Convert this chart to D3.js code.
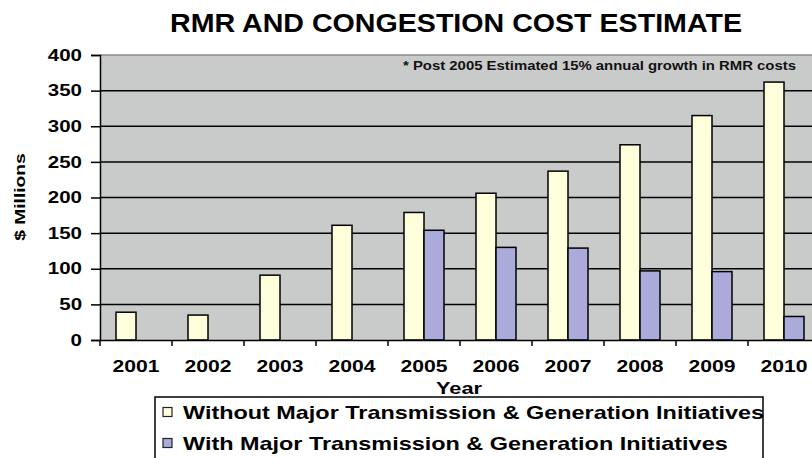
<!DOCTYPE html>
<html>
<head>
<meta charset="utf-8">
<script src="https://cdn.jsdelivr.net/npm/d3@7"></script>
<style>
  body { margin: 0; background: #fff; }
  text { font-family: "Liberation Sans", Arial, sans-serif; font-weight: bold; fill: #000; }
</style>
</head>
<body>
<div class="chart"></div>
<script>
// data
const years = ['2001', '2002', '2003', '2004', '2005', '2006', '2007', '2008', '2009', '2010'];
const withoutInit = [39, 35, 91, 161, 179, 206, 237, 274, 315, 362];
const withInit = [null, null, null, null, 154, 130, 129, 97, 96, 33];
const yTicks = [0, 50, 100, 150, 200, 250, 300, 350, 400];
const seriesNames = ['Without Major Transmission & Generation Initiatives', 'With Major Transmission & Generation Initiatives'];
const seriesColors = ['#FFFFDC', '#AAAADB'];

const width = 812, height = 458;
const plotLeft = 100, plotTop = 55, plotBottom = 340, plotRight = 820;
const k = 1.28; // text in the picture is drawn wider than normal

const svg = d3.select('.chart').append('svg')
  .attr('width', width)
  .attr('height', height);

const x = d3.scaleBand().domain(years).range([plotLeft, plotRight]);
const xSub = d3.scaleBand().domain([0, 1]).range([16, 56]);
const y = d3.scaleLinear().domain([0, 400]).range([plotBottom, plotTop]);

// plot background
svg.append('rect')
  .attr('x', plotLeft).attr('y', plotTop)
  .attr('width', plotRight - plotLeft).attr('height', plotBottom - plotTop)
  .attr('fill', '#C9CACA');
svg.append('line')
  .attr('x1', plotLeft).attr('x2', plotRight)
  .attr('y1', plotTop).attr('y2', plotTop)
  .attr('stroke', '#8a8a8a').attr('stroke-width', 1.5);

// grid lines
svg.selectAll('.grid')
  .data(yTicks.filter(d => d > 0 && d < 400))
  .enter()
  .append('line')
  .attr('class', 'grid')
  .attr('x1', plotLeft).attr('x2', plotRight)
  .attr('y1', d => y(d)).attr('y2', d => y(d))
  .attr('stroke', '#000').attr('stroke-width', 1.5);

// bars
const rows = years.map((yr, i) => ({ year: yr, vals: [withoutInit[i], withInit[i]] }));
const groups = svg.selectAll('.yr')
  .data(rows)
  .enter()
  .append('g')
  .attr('class', 'yr')
  .attr('transform', d => 'translate(' + x(d.year) + ',0)');

groups.selectAll('rect')
  .data(d => d.vals.map((v, j) => ({ v: v, j: j })).filter(e => e.v != null))
  .enter()
  .append('rect')
  .attr('x', d => xSub(d.j))
  .attr('width', xSub.bandwidth())
  .attr('y', d => y(d.v))
  .attr('height', d => y(0) - y(d.v))
  .attr('fill', d => seriesColors[d.j])
  .attr('stroke', '#000')
  .attr('stroke-width', 1.5);

// y axis
const yAxis = svg.append('g')
  .attr('transform', 'translate(' + plotLeft + ',0)')
  .call(d3.axisLeft(y).tickValues(yTicks).tickSize(9).tickPadding(8));
yAxis.select('.domain').attr('stroke', '#000').attr('stroke-width', 1.5);
yAxis.selectAll('.tick line').attr('stroke', '#000').attr('stroke-width', 1.5);
yAxis.selectAll('.tick text')
  .attr('font-size', 16)
  .attr('font-family', '"Liberation Sans", Arial, sans-serif')
  .attr('font-weight', 'bold')
  .attr('x', -18 / k)
  .attr('transform', 'scale(' + k + ',1)');

// x axis
const xAxis = svg.append('g')
  .attr('transform', 'translate(0,' + plotBottom + ')')
  .call(d3.axisBottom(x).tickSize(0).tickPadding(0).tickSizeOuter(0));
xAxis.select('.domain').attr('stroke', '#000').attr('stroke-width', 1.5);
xAxis.selectAll('.tick text')
  .attr('font-size', 16.5)
  .attr('font-family', '"Liberation Sans", Arial, sans-serif')
  .attr('font-weight', 'bold')
  .attr('y', 32)
  .attr('dy', 0)
  .attr('transform', 'scale(' + k + ',1)');
svg.selectAll('.xtick')
  .data(years)
  .enter()
  .append('line')
  .attr('class', 'xtick')
  .attr('x1', d => x(d)).attr('x2', d => x(d))
  .attr('y1', plotBottom).attr('y2', plotBottom + 6)
  .attr('stroke', '#000').attr('stroke-width', 1.5);

function stretched(str, px, py, size, anchor, rot, kx) {
  return svg.append('text')
    .text(str)
    .attr('x', 0).attr('y', 0)
    .attr('font-size', size)
    .attr('text-anchor', anchor)
    .attr('transform', 'translate(' + px + ',' + py + ')' + (rot ? ' rotate(' + rot + ')' : '') + ' scale(' + (kx || k) + ',1)');
}

// titles
stretched('RMR AND CONGESTION COST ESTIMATE', 456, 32, 26, 'middle', 0, 1.1);
stretched('Year', 459, 394, 17, 'middle');
stretched('$ Millions', 25, 197, 15.5, 'middle', -90, 1.24);

svg.append('text')
  .text('* Post 2005 Estimated 15% annual growth in RMR costs')
  .attr('x', 403).attr('y', 70)
  .attr('font-family', '"DejaVu Sans", Verdana, sans-serif')
  .attr('font-size', 13)
  .style('fill', '#111')
  .attr('textLength', 393)
  .attr('lengthAdjust', 'spacingAndGlyphs');

// legend
svg.append('rect')
  .attr('x', 155).attr('y', 397)
  .attr('width', 608).attr('height', 80)
  .attr('fill', '#fff')
  .attr('stroke', '#000').attr('stroke-width', 1.5);

const legend = svg.selectAll('.leg')
  .data(seriesNames)
  .enter()
  .append('g')
  .attr('class', 'leg')
  .attr('transform', (d, i) => 'translate(0,' + (412 + i * 31) + ')');
legend.append('rect')
  .attr('x', 163).attr('y', -4.5)
  .attr('width', 9).attr('height', 9)
  .attr('fill', (d, i) => seriesColors[i])
  .attr('stroke', '#222').attr('stroke-width', 1.2);
legend.append('text')
  .text(d => d)
  .attr('x', 0).attr('y', 0)
  .attr('dy', 6.5)
  .attr('font-size', 18.3)
  .attr('transform', 'translate(183,0) scale(' + k + ',1)');
</script>
</body>
</html>
